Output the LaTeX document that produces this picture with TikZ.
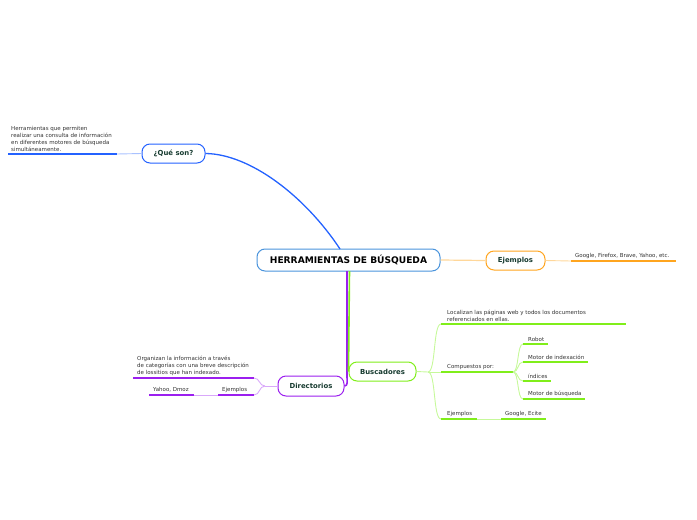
\documentclass[tikz,border=0pt]{standalone}
\usepackage{fontspec}
\setmainfont{DejaVu Sans}
\definecolor{rootblue}{HTML}{4A94DC}
\definecolor{qblue}{HTML}{2462FF}
\definecolor{qbluel}{HTML}{A9C2FF}
\definecolor{orng}{HTML}{FFA51F}
\definecolor{orngl}{HTML}{FFD79A}
\definecolor{grn}{HTML}{80EE1A}
\definecolor{grnl}{HTML}{C6F99A}
\definecolor{purp}{HTML}{9B1FEF}
\definecolor{purpl}{HTML}{D9A8FA}
\definecolor{ntext}{HTML}{173B30}
\definecolor{ltext}{HTML}{333333}
\tikzset{
  topic/.style={draw, fill=white, rounded corners=8pt, line width=1pt, text=ntext,
    font=\fontsize{6.9}{8}\selectfont\bfseries, inner sep=0pt, minimum height=19pt},
  leaf/.style={anchor=south west, inner sep=0pt, text=ltext,
    font=\fontsize{5.5}{6.8}\selectfont, align=left},
  uline/.style={line width=1.8pt},
  conn/.style={line width=0.9pt},
}
\begin{document}
\begin{tikzpicture}[x=1pt,y=-1pt]
\useasboundingbox (0,0) rectangle (697,520);

% main topics
\node[topic, draw=rootblue, minimum width=183pt, minimum height=22pt,
  font=\fontsize{9.1}{10}\selectfont\bfseries, text=black] (root) at (348.5,260) {HERRAMIENTAS DE BÚSQUEDA};
\node[topic, draw=qblue, minimum width=63pt] (que) at (173.5,153.5) {¿Qué son?};
\node[topic, draw=orng, minimum width=59pt] (ej) at (515.5,260.5) {Ejemplos};
\node[topic, draw=grn, minimum width=67pt] (busc) at (382.5,371.5) {Buscadores};
\node[topic, draw=purp, minimum width=66pt, minimum height=20pt] (dir) at (311,386) {Directorios};

% coordinates
\coordinate (qa) at (8,154);
\coordinate (qb) at (117,154);
\coordinate (ea) at (571,261);
\coordinate (eb) at (676,261);
\coordinate (rq) at (340,249);
\coordinate (rd) at (347,271);
\coordinate (rdb) at (347,377);
\coordinate (rb) at (349.5,271);
\coordinate (bj) at (428,372);
\coordinate (la) at (441,324);  \coordinate (lb) at (626,324);
\coordinate (ca) at (441,372);  \coordinate (cb) at (513,372);
\coordinate (xa) at (441,419);  \coordinate (xb) at (477,419);
\coordinate (ga) at (501,419);  \coordinate (gb) at (546,419);
\coordinate (r1a) at (523,344); \coordinate (r1b) at (548,344);
\coordinate (r2a) at (523,362); \coordinate (r2b) at (588,362);
\coordinate (r3a) at (523,381); \coordinate (r3b) at (551,381);
\coordinate (r4a) at (523,399); \coordinate (r4b) at (585,399);
\coordinate (dj) at (265,386);
\coordinate (oa) at (133,378);  \coordinate (ob) at (254,378);
\coordinate (dea) at (218,395); \coordinate (deb) at (254,395);
\coordinate (ya) at (149,395);  \coordinate (yb) at (194,395);

% leaf texts
\node[leaf] (qt) at (11,151.5) {Herramientas que permiten\\realizar una consulta de información\\en diferentes motores de búsqueda\\simultáneamente.};
\node[leaf] (et) at (575,258.5) {Google, Firefox, Brave, Yahoo, etc.};
\node[leaf] (lt) at (447,321.5) {Localizan las páginas web y todos los documentos\\referenciados en ellas.};
\node[leaf] (ct) at (447,369.5) {Compuestos por:};
\node[leaf] (xt) at (447,416.5) {Ejemplos};
\node[leaf] (gt) at (505,416.5) {Google, Ecite};
\node[leaf] (t1) at (528,341.5) {Robot};
\node[leaf] (t2) at (528,359.5) {Motor de indexación};
\node[leaf] (t3) at (528,378.5) {índices};
\node[leaf] (t4) at (528,396.5) {Motor de búsqueda};
\node[leaf] (ot) at (137,375.5) {Organizan la información a través\\de categorías con una breve descripción\\de lossitios que han indexado.};
\node[leaf] (det) at (222,392.5) {Ejemplos};
\node[leaf] (yt) at (153,392.5) {Yahoo, Dmoz};

% connectors from root
\draw[qblue, line width=1.3pt] (que.east) .. controls (250,154) and (305,196) .. (rq);
\draw[orngl, line width=1.2pt] (root.east) -- (ej.west);
\draw[purp, line width=1.6pt] (rd) -- (rdb) to[out=-90, in=0] (dir.east);
\draw[grn, line width=1.6pt] (rb) -- (busc.west);

% que branch
\draw[qbluel, conn] (que.west) -- (qb);
\draw[qblue, uline] (qa) -- (qb);

% ejemplos branch
\draw[orngl, conn] (ej.east) -- (ea);
\draw[orng, uline] (ea) -- (eb);

% buscadores branch
\draw[grnl, conn] (busc.east) -- (bj);
\draw[grnl, conn] (bj) .. controls (436,372) and (433,324) .. (la);
\draw[grnl, conn] (bj) -- (ca);
\draw[grnl, conn] (bj) .. controls (436,372) and (433,419) .. (xa);
\draw[grn, uline] (la) -- (lb);
\draw[grn, uline] (ca) -- (cb);
\draw[grn, uline] (xa) -- (xb);
\draw[grnl, conn] (xb) -- (ga);
\draw[grn, uline] (ga) -- (gb);
\draw[grnl, conn] (cb) .. controls (519,372) and (517,344) .. (r1a);
\draw[grnl, conn] (cb) .. controls (519,372) and (517,362) .. (r2a);
\draw[grnl, conn] (cb) .. controls (519,372) and (517,381) .. (r3a);
\draw[grnl, conn] (cb) .. controls (519,372) and (517,399) .. (r4a);
\draw[grn, uline] (r1a) -- (r1b);
\draw[grn, uline] (r2a) -- (r2b);
\draw[grn, uline] (r3a) -- (r3b);
\draw[grn, uline] (r4a) -- (r4b);

% directorios branch
\draw[purpl, conn] (dir.west) -- (dj);
\draw[purpl, conn] (dj) .. controls (259,386) and (260,378) .. (ob);
\draw[purpl, conn] (dj) .. controls (259,386) and (260,395) .. (deb);
\draw[purp, uline] (oa) -- (ob);
\draw[purp, uline] (dea) -- (deb);
\draw[purpl, conn] (ya) -- (dea);
\draw[purp, uline] (ya) -- (yb);
\end{tikzpicture}
\end{document}
